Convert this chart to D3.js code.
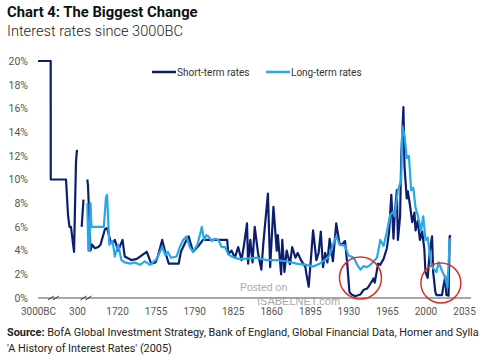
<!DOCTYPE html>
<html><head><meta charset="utf-8">
<script src="https://cdn.jsdelivr.net/npm/d3@7"></script>
<style>
body{margin:0;background:#fff;}
svg{display:block;}
</style></head>
<body>
<svg id="chart" width="492" height="364"></svg>
<script>
// ---- data ----
const shortYears = [-3000,-1925,-1920,-630,-460,-335,-210,50,215,300,301,
  665,805,806,
  1101,1156,1350,1467,1700,1703,1705,1709,1711,1714,1716,1718,1721,1725,1727,1733,1738,1744,1747,1751,1755,1757,1761,1764,1767,1776,1778,1783,1785,1789,1794,1798,
  1820,1821,1824,1827,1830,1833,1835,1838,1839,1841,1843,1845,1848,1851,1853,1857,1859,1862,1865,1866,1869,1870,1872,1874,1877,1879,1882,1884,1887,1891,1892,1894,1896,1898,1901,1903,1905,1907,1909,1911,1913,1916,1919,1922,1924,1927,1929,1931,1933,1936,1941,1944,1947,1950,1953,1954,1957,1959,1962,1965,1967,1969,1971,1972,1974,1975,1977,1978,1980,1981,1983,1984,1986,1988,1990,1991,1993,1995,1997,1999,2000,2002,2004,2006,2007,2009,2010,2015,2016,2018,2019,2021,2022,2023];
const shortRates = [20,20,10,10,7,6,6,3.9,11.5,12.5,null,
  6,8.3,null,
  10,9.5,4.0,4.5,4.2,4.3,4.5,5.8,5.9,4.8,4.6,4.9,4.0,4.9,3.5,3.2,3.3,3.7,3.9,2.9,3.0,3.5,4.9,3.8,2.9,2.9,3.9,4.9,5.2,3.9,4.4,4.9,
  4.9,3.7,4.0,3.4,4.3,3.2,4.3,6.3,2.9,4.9,3.0,6.0,3.8,2.4,4.8,8.8,2.6,7.7,4.0,5.3,2.0,4.9,2.2,4.0,2.85,4.3,3.4,3.8,3.2,2.6,2.0,0.95,3.3,5.7,3.2,3.8,5.6,2.6,3.8,3.0,5.0,3.1,6.3,4.6,4.5,4.8,2.9,0.5,0.3,0.15,0.3,0.7,0.8,1.2,1.65,1.3,2.9,2.8,3.3,4.2,5.6,8.7,5.0,6.9,9.1,4.9,6.9,11.9,16.1,11.1,8.4,9.0,7.8,6.4,7.2,5.7,6.5,4.9,5.6,4.1,2.2,1.7,4.0,5.2,2.2,0.5,0.25,0.25,0.8,1.8,0.25,0.2,5.2,5.3];

const longYears = [1101,1179,1272,1350,1428,1700,1708,1710,1711,1712,1713,1716,1718,1721,1724,1727,1732,1736,1741,1745,1750,1756,1761,1764,1766,1769,1774,1777,1780,1783,1786,1789,1793,1797,1799,1801,1803,1806,1809,1812,1815,1818,1821,1824,1830,1836,1847,1856,1865,1874,1883,1892,1898,1904,1910,1913,1916,1919,1922,1927,1930,1935,1938,1941,1944,1947,1950,1953,1956,1959,1962,1965,1968,1971,1972,1975,1978,1979,1981,1983,1985,1987,1989,1991,1993,1996,1998,2000,2002,2005,2007,2010,2012,2015,2018,2020,2022,2023];
const longRates = [8.0,4.0,4.0,8.0,6.0,6.0,6.0,8.5,8.7,6.5,4.5,4.8,3.5,4.5,3.2,3.0,2.9,3.0,2.8,3.1,2.8,3.3,4.3,3.6,3.9,3.4,3.5,4.3,4.9,5.2,4.3,3.9,4.5,6.0,4.9,5.3,5.2,4.8,5.0,4.9,4.3,4.3,3.7,3.5,3.3,3.3,3.4,3.2,3.2,3.1,2.9,2.8,2.65,2.9,3.3,3.6,4.5,5.2,4.5,4.4,3.6,3.4,2.8,2.4,2.7,2.6,2.8,3.1,3.4,4.9,4.4,5.6,7.0,7.3,6.9,9.1,9.9,14.5,13.7,11.8,12.0,9.1,9.3,7.6,7.0,5.7,6.9,4.9,5.1,3.0,2.5,2.2,3.0,2.3,1.7,0.9,4.9,5.0];

const xTicks = [-3000,300,1720,1755,1790,1825,1860,1895,1930,1965,2000,2035];
const yTicks = [0,2,4,6,8,10,12,14,16,18,20];
const seriesNames = ["Short-term rates","Long-term rates"];
const highlightYears = [1941, 2014]; // periods circled in red

// ---- drawing ----
const svg = d3.select("#chart");
const navy = "#0c1f6e", sky = "#27a8e8";
const small = "Roboto, 'Liberation Sans', sans-serif";

const x = d3.scaleLinear().domain([-3000, 300, 1700, 2035]).range([38, 77, 95, 464]);
const y = d3.scaleLinear().domain([0, 20]).range([298, 61]);

// title
svg.append("text").attr("x", 7).attr("y", 17)
  .style("font-family", "Roboto, sans-serif").style("font-weight", "700")
  .style("font-size", "14.8px").attr("fill", "#111").text("Chart 4: The Biggest Change");
svg.append("text").attr("x", 7).attr("y", 36)
  .style("font-family", "Roboto, sans-serif").style("font-weight", "300")
  .style("font-size", "14.6px").attr("fill", "#222").text("Interest rates since 3000BC");

// y axis
const ya = svg.append("g").attr("transform", "translate(29,0)")
  .call(d3.axisLeft(y).tickValues(yTicks).tickSize(0).tickPadding(1).tickFormat(d => d + "%"));
ya.select(".domain").remove();
ya.selectAll("text").style("font-family", small).style("font-size", "10.5px").attr("fill", "#555");

// x axis
const xa = svg.append("g").attr("transform", "translate(0,298)")
  .call(d3.axisBottom(x).tickValues(xTicks).tickSize(0).tickPadding(10)
    .tickFormat(d => d < 0 ? "3000BC" : String(d)));
xa.select(".domain").remove();
xa.selectAll("text").style("font-family", small).style("font-size", "10px").attr("fill", "#555");

svg.append("line").attr("x1", x(-3000)).attr("x2", 471).attr("y1", y(0)).attr("y2", y(0))
  .attr("stroke", "#8a8a8a").attr("stroke-width", 1.6);

// axis break marks
[x(-1700), x(1000)].forEach(cx => {
  [-2.5, 2.5].forEach(dx => {
    svg.append("line").attr("x1", cx + dx - 3).attr("y1", y(0) + 2).attr("x2", cx + dx + 3).attr("y2", y(0) - 2)
      .attr("stroke", "#333").attr("stroke-width", 1);
  });
});

// watermark
svg.append("text").attr("x", 240).attr("y", 291).style("font-family", "Liberation Sans, sans-serif")
  .style("font-size", "10.5px").attr("fill", "#9a9a9a").attr("opacity", 0.85).text("Posted on");
svg.append("text").attr("x", 257).attr("y", 305).style("font-family", "Liberation Sans, sans-serif")
  .style("font-size", "11px").attr("fill", "#9a9a9a").attr("opacity", 0.85).text("ISABELNET.com");

// lines
const mk = (ys, vs) => ys.map((d, i) => ({ t: d, v: vs[i] }));
const line = d3.line().defined(d => d.v != null).x(d => x(d.t)).y(d => y(d.v)).curve(d3.curveLinear);
svg.append("path").datum(mk(shortYears, shortRates)).attr("d", line)
  .attr("fill", "none").attr("stroke", navy).attr("stroke-width", 2.2).attr("stroke-linejoin", "round");
svg.append("path").datum(mk(longYears, longRates)).attr("d", line)
  .attr("fill", "none").attr("stroke", sky).attr("stroke-width", 2.2).attr("stroke-linejoin", "round");

// red circles
svg.append("circle").attr("cx", x(highlightYears[0])).attr("cy", 278).attr("r", 21)
  .attr("fill", "none").attr("stroke", "#d8312c").attr("stroke-width", 1.5);
svg.append("circle").attr("cx", x(highlightYears[1])).attr("cy", 283).attr("r", 20)
  .attr("fill", "none").attr("stroke", "#d8312c").attr("stroke-width", 1.5);

// legend
const lg = svg.append("g");
[[152, navy], [266, sky]].forEach(([lx, c], i) => {
  lg.append("line").attr("x1", lx).attr("x2", lx + 24).attr("y1", 72).attr("y2", 72)
    .attr("stroke", c).attr("stroke-width", 2.5);
  lg.append("text").attr("x", lx + 25).attr("y", 75.5).style("font-family", small)
    .style("font-size", "10px").attr("fill", "#333").text(seriesNames[i]);
});

// source
const src = svg.append("text").attr("x", 7).attr("y", 336).style("font-family", small)
  .style("font-size", "10.9px").attr("fill", "#222");
src.append("tspan").style("font-weight", "700").text("Source:");
src.append("tspan").text("  BofA Global Investment Strategy, Bank of England, Global Financial Data, Homer and Sylla");
svg.append("text").attr("x", 7).attr("y", 352).style("font-family", small)
  .style("font-size", "10.9px").attr("fill", "#222").text("'A History of Interest Rates' (2005)");
</script>
</body></html>
